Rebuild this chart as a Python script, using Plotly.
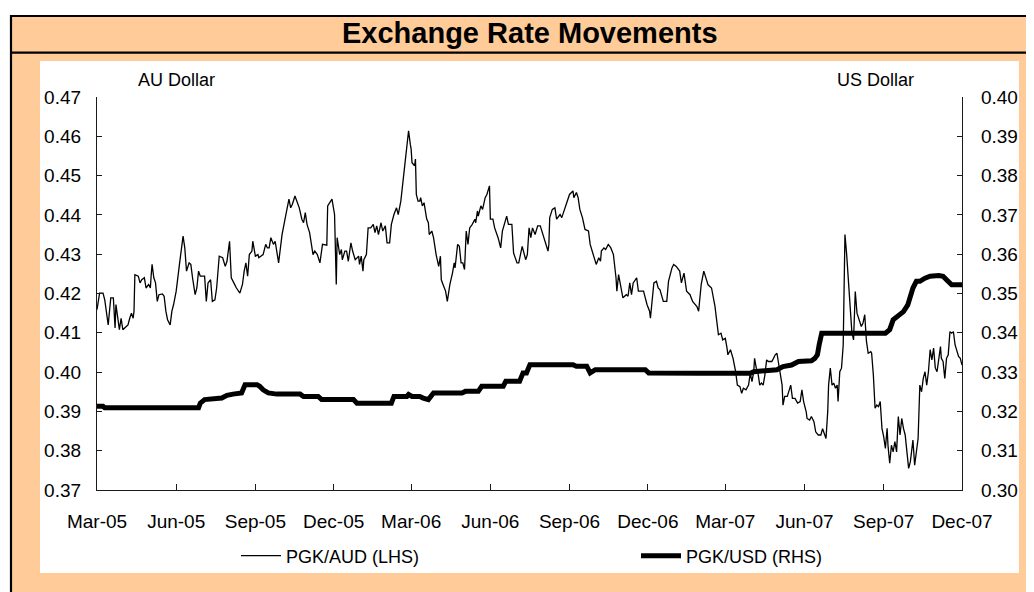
import pandas as pd
import plotly.graph_objects as go

# ---------------- data ----------------
base_date = "2005-03-01"   # day 0 of the day offsets below

# PGK/AUD (left axis): day offset since 1 Mar 2005, rate
aud_day = [0, 1, 3, 7, 9, 13, 16, 19, 21, 22, 26, 28, 30, 34, 36, 38, 40, 42, 43, 44,
           48, 50, 52, 55, 57, 60, 62, 63, 64, 66, 68, 70, 72, 76, 78, 80, 82, 85, 87, 89,
           92, 96, 97, 100, 102, 104, 107, 109, 111, 114, 116, 118, 120, 125, 127, 129, 132, 134, 137, 139,
           142, 146, 149, 151, 154, 156, 159, 162, 166, 169, 171, 173, 175, 177, 180, 181, 184, 187, 188, 193,
           196, 198, 200, 202, 205, 207, 211, 213, 215, 218, 221, 223, 225, 227, 230, 232, 235, 238, 240, 242,
           244, 247, 251, 253, 256, 259, 262, 267, 268, 273, 276, 278, 279, 282, 284, 285, 288, 290, 292, 295,
           297, 300, 304, 305, 307, 309, 310, 313, 315, 318, 321, 323, 325, 327, 330, 332, 335, 337, 340, 342,
           345, 348, 350, 353, 355, 357, 360, 362, 364, 365, 366, 369, 370, 371, 373, 375, 376, 378, 380, 383,
           385, 386, 389, 391, 394, 397, 399, 400, 402, 405, 407, 410, 413, 415, 416, 419, 421, 423, 425, 427,
           429, 431, 433, 436, 439, 440, 442, 443, 446, 448, 451, 453, 456, 457, 460, 462, 466, 469, 471, 476,
           478, 482, 484, 488, 490, 492, 494, 497, 498, 500, 502, 504, 506, 509, 512, 515, 520, 524, 525, 526,
           529, 532, 534, 538, 540, 543, 546, 549, 553, 554, 557, 559, 561, 564, 567, 571, 573, 577, 580, 583,
           585, 586, 589, 591, 594, 597, 600, 603, 604, 606, 609, 611, 615, 617, 619, 621, 623, 627, 629, 635,
           639, 642, 643, 646, 647, 650, 652, 654, 658, 662, 664, 668, 670, 673, 677, 679, 682, 685, 689, 692,
           697, 699, 701, 702, 705, 710, 714, 718, 722, 725, 727, 730, 732, 733, 736, 739, 742, 744, 747, 749,
           751, 754, 757, 759, 761, 763, 764, 766, 768, 770, 772, 774, 776, 778, 780, 784, 786, 788, 790, 792,
           794, 796, 797, 799, 802, 804, 806, 808, 811, 814, 817, 819, 821, 824, 825, 828, 830, 833, 835, 838,
           841, 843, 846, 847, 849, 850, 852, 854, 856, 858, 860, 861, 863, 865, 867, 869, 871, 873, 875, 877,
           879, 881, 883, 885, 886, 888, 890, 892, 894, 896, 899, 900, 902, 904, 906, 908, 910, 912, 914, 916,
           918, 919, 921, 923, 925, 927, 929, 931, 933, 935, 937, 939, 941, 943, 945, 947, 948, 950, 952, 954,
           956, 958, 960, 962, 964, 966, 968, 970, 972, 974, 976, 978, 980, 981, 983, 985, 987, 989, 991, 993,
           995, 997, 1001, 1003, 1005]
aud_rate = [0.4159, 0.4172, 0.4201, 0.4201, 0.4184, 0.4120, 0.4189, 0.4189, 0.4112, 0.4172, 0.4108, 0.4137, 0.4108, 0.4116, 0.4120, 0.4137, 0.4150, 0.4137, 0.4155, 0.4248,
            0.4244, 0.4227, 0.4235, 0.4240, 0.4214, 0.4223, 0.4214, 0.4248, 0.4274, 0.4240, 0.4227, 0.4180, 0.4197, 0.4199, 0.4193, 0.4155, 0.4133, 0.4120, 0.4155, 0.4172,
            0.4206, 0.4278, 0.4299, 0.4346, 0.4316, 0.4257, 0.4278, 0.4274, 0.4240, 0.4197, 0.4214, 0.4257, 0.4244, 0.4244, 0.4180, 0.4227, 0.4235, 0.4180, 0.4184, 0.4214,
            0.4295, 0.4291, 0.4269, 0.4282, 0.4333, 0.4240, 0.4227, 0.4214, 0.4201, 0.4223, 0.4257, 0.4278, 0.4244, 0.4299, 0.4308, 0.4333, 0.4295, 0.4299, 0.4291, 0.4299,
            0.4325, 0.4316, 0.4316, 0.4342, 0.4325, 0.4333, 0.4278, 0.4316, 0.4350, 0.4384, 0.4418, 0.4440, 0.4418, 0.4427, 0.4448, 0.4435, 0.4418, 0.4389, 0.4380, 0.4406,
            0.4376, 0.4355, 0.4299, 0.4308, 0.4299, 0.4278, 0.4325, 0.4323, 0.4423, 0.4440, 0.4401, 0.4223, 0.4342, 0.4299, 0.4312, 0.4286, 0.4308, 0.4308, 0.4282, 0.4329,
            0.4308, 0.4286, 0.4295, 0.4274, 0.4295, 0.4257, 0.4286, 0.4299, 0.4367, 0.4367, 0.4376, 0.4355, 0.4372, 0.4350, 0.4380, 0.4359, 0.4372, 0.4329, 0.4329, 0.4376,
            0.4401, 0.4418, 0.4401, 0.4435, 0.4474, 0.4512, 0.4567, 0.4614, 0.4580, 0.4567, 0.4533, 0.4525, 0.4542, 0.4452, 0.4435, 0.4435, 0.4444, 0.4423, 0.4431, 0.4390,
            0.4380, 0.4350, 0.4359, 0.4342, 0.4299, 0.4269, 0.4295, 0.4235, 0.4223, 0.4206, 0.4180, 0.4223, 0.4252, 0.4278, 0.4265, 0.4325, 0.4320, 0.4278, 0.4278, 0.4261,
            0.4359, 0.4325, 0.4367, 0.4376, 0.4389, 0.4380, 0.4410, 0.4397, 0.4423, 0.4414, 0.4444, 0.4452, 0.4474, 0.4389, 0.4389, 0.4367, 0.4342, 0.4316, 0.4359, 0.4397,
            0.4376, 0.4376, 0.4303, 0.4278, 0.4278, 0.4303, 0.4320, 0.4295, 0.4286, 0.4299, 0.4367, 0.4342, 0.4367, 0.4350, 0.4372, 0.4372, 0.4337, 0.4308, 0.4325, 0.4393,
            0.4414, 0.4418, 0.4389, 0.4401, 0.4393, 0.4414, 0.4435, 0.4452, 0.4461, 0.4444, 0.4457, 0.4444, 0.4414, 0.4393, 0.4363, 0.4359, 0.4325, 0.4295, 0.4274, 0.4291,
            0.4282, 0.4308, 0.4316, 0.4312, 0.4325, 0.4316, 0.4299, 0.4240, 0.4206, 0.4248, 0.4206, 0.4189, 0.4197, 0.4193, 0.4227, 0.4197, 0.4227, 0.4240, 0.4206, 0.4206,
            0.4172, 0.4155, 0.4137, 0.4214, 0.4227, 0.4231, 0.4214, 0.4210, 0.4180, 0.4180, 0.4231, 0.4265, 0.4274, 0.4269, 0.4257, 0.4227, 0.4252, 0.4206, 0.4197, 0.4180,
            0.4167, 0.4155, 0.4197, 0.4223, 0.4257, 0.4222, 0.4214, 0.4167, 0.4095, 0.4099, 0.4082, 0.4086, 0.4061, 0.4044, 0.4057, 0.4035, 0.4001, 0.3967, 0.3963, 0.3946,
            0.3959, 0.3955, 0.3967, 0.3997, 0.3976, 0.4001, 0.4035, 0.4010, 0.3997, 0.3967, 0.3972, 0.3967, 0.3993, 0.4031, 0.4027, 0.4027, 0.4035, 0.4044, 0.4048, 0.4023,
            0.4001, 0.3967, 0.3916, 0.3938, 0.3938, 0.3950, 0.3967, 0.3933, 0.3933, 0.3921, 0.3925, 0.3955, 0.3925, 0.3899, 0.3882, 0.3878, 0.3887, 0.3874, 0.3848, 0.3840,
            0.3840, 0.3856, 0.3840, 0.3831, 0.3900, 0.3967, 0.4010, 0.3967, 0.3972, 0.3959, 0.3967, 0.3925, 0.4001, 0.4010, 0.4069, 0.4350, 0.4299, 0.4239, 0.4171, 0.4103,
            0.4082, 0.4205, 0.4150, 0.4137, 0.4129, 0.4116, 0.4125, 0.4146, 0.4078, 0.4048, 0.4052, 0.4048, 0.3993, 0.3908, 0.3916, 0.3912, 0.3925, 0.3857, 0.3836, 0.3806,
            0.3857, 0.3814, 0.3768, 0.3814, 0.3797, 0.3823, 0.3797, 0.3887, 0.3840, 0.3882, 0.3857, 0.3840, 0.3797, 0.3755, 0.3772, 0.3823, 0.3827, 0.3763, 0.3806, 0.3831,
            0.3967, 0.3950, 0.3984, 0.4001, 0.3967, 0.4001, 0.4057, 0.4031, 0.4061, 0.4010, 0.4001, 0.4035, 0.4065, 0.4035, 0.4027, 0.3984, 0.4035, 0.4044, 0.4103, 0.4099,
            0.4103, 0.4069, 0.4040, 0.4035, 0.4018]

# PGK/USD (right axis): day offset since 1 Mar 2005, rate
usd_day = [0, 7, 9, 118, 120, 125, 145, 151, 158, 168, 172, 186, 189, 193, 199, 209, 236, 240, 257, 261,
           298, 302, 342, 345, 360, 362, 366, 375, 379, 383, 385, 391, 424, 428, 443, 447, 472, 475, 491, 495,
           499, 503, 553, 557, 569, 573, 579, 637, 641, 701, 759, 763, 790, 797, 807, 815, 830, 834, 837, 839,
           842, 916, 921, 925, 931, 937, 942, 945, 948, 952, 956, 962, 968, 978, 983, 987, 989, 993, 1005]
usd_rate = [0.3213, 0.3213, 0.3209, 0.3209, 0.3221, 0.3230, 0.3234, 0.3241, 0.3244, 0.3247, 0.3268, 0.3268, 0.3264, 0.3255, 0.3247, 0.3244, 0.3244, 0.3238, 0.3238, 0.3230,
            0.3230, 0.3221, 0.3221, 0.3238, 0.3238, 0.3243, 0.3238, 0.3238, 0.3234, 0.3230, 0.3230, 0.3247, 0.3247, 0.3251, 0.3251, 0.3264, 0.3264, 0.3277, 0.3277, 0.3298,
            0.3298, 0.3319, 0.3319, 0.3315, 0.3315, 0.3298, 0.3306, 0.3306, 0.3298, 0.3297, 0.3297, 0.3301, 0.3306, 0.3314, 0.3318, 0.3327, 0.3329, 0.3335, 0.3344, 0.3369,
            0.3399, 0.3399, 0.3408, 0.3433, 0.3442, 0.3454, 0.3471, 0.3497, 0.3514, 0.3531, 0.3531, 0.3539, 0.3544, 0.3546, 0.3544, 0.3535, 0.3531, 0.3522, 0.3522]

tick_dates = ["2005-03-01", "2005-06-01", "2005-09-01", "2005-12-01", "2006-03-01", "2006-06-01",
              "2006-09-01", "2006-12-01", "2007-03-01", "2007-06-01", "2007-09-01", "2007-12-01"]
tick_labels = ["Mar-05", "Jun-05", "Sep-05", "Dec-05", "Mar-06", "Jun-06",
               "Sep-06", "Dec-06", "Mar-07", "Jun-07", "Sep-07", "Dec-07"]

title_text = "Exchange Rate Movements"
left_axis_title = "AU Dollar"
right_axis_title = "US Dollar"
aud_name = "PGK/AUD (LHS)"
usd_name = "PGK/USD (RHS)"

# ---------------- figure ----------------
aud_dates = pd.to_datetime(base_date) + pd.to_timedelta(aud_day, unit="D")
usd_dates = pd.to_datetime(base_date) + pd.to_timedelta(usd_day, unit="D")

FONT = "Liberation Sans, Arial, sans-serif"
PEACH = "#FFCC99"

fig = go.Figure()
fig.add_trace(go.Scatter(x=aud_dates, y=aud_rate, name=aud_name, mode="lines", yaxis="y",
                         line=dict(color="black", width=1.3), legend="legend"))
fig.add_trace(go.Scatter(x=usd_dates, y=usd_rate, name=usd_name, mode="lines", yaxis="y2",
                         line=dict(color="black", width=5), legend="legend2"))

# page is shown with the browser's default 8px body margin -> work in page pixels
OFF = 8
W, H = 1034, 592
L, R, T = 89, 80, 89          # plot area on page: x 97..962, y 97..490
pw, ph = 865, 393
B = H - T - ph


def px(x):
    return (x - OFF - L) / pw


def py(y):
    return (T + ph - (y - OFF)) / ph


shapes = [
    # peach frame with black border
    dict(type="rect", xref="paper", yref="paper", x0=px(11), x1=px(W + 40), y0=py(H + 40), y1=py(16),
         fillcolor=PEACH, line=dict(color="black", width=2.2), layer="below"),
    # white inner panel
    dict(type="rect", xref="paper", yref="paper", x0=px(40), x1=px(1019), y0=py(573), y1=py(61),
         fillcolor="white", line=dict(width=0), layer="below"),
    # title separator
    dict(type="line", xref="paper", yref="paper", x0=px(11), x1=px(W + 40), y0=py(52.7), y1=py(52.7),
         line=dict(color="black", width=2.2), layer="below"),
]

axis_common = dict(showgrid=False, zeroline=False, showline=True, linecolor="#1a1a1a", linewidth=1.3,
                   ticks="inside", tickcolor="#1a1a1a", tickwidth=1.3,
                   tickfont=dict(family=FONT, size=19, color="black"), automargin=False)

legend_common = dict(orientation="h", xanchor="left", y=py(556), yanchor="middle",
                     font=dict(family=FONT, size=18, color="black"), bgcolor="rgba(0,0,0,0)",
                     itemwidth=40)

fig.update_layout(
    width=W, height=H,
    margin=dict(l=L, r=R, t=T, b=B, pad=0),
    paper_bgcolor="white", plot_bgcolor="white",
    font=dict(family=FONT, color="black"),
    shapes=shapes,
    showlegend=True,
    legend=dict(x=px(236), **legend_common),
    legend2=dict(x=px(636), **legend_common),
    xaxis=dict(type="date", range=[tick_dates[0], tick_dates[-1]], tickmode="array",
               tickvals=tick_dates, ticktext=tick_labels, ticklen=6, ticklabelstandoff=14,
               **axis_common),
    yaxis=dict(range=[0.37, 0.47], dtick=0.01, tick0=0.37, tickformat=".2f", ticklen=5,
               ticklabelstandoff=11, **axis_common),
    yaxis2=dict(range=[0.30, 0.40], dtick=0.01, tick0=0.30, tickformat=".2f", ticklen=5,
                overlaying="y", side="right", ticklabelstandoff=14, **axis_common),
    annotations=[
        dict(text=f"<b>{title_text}</b>", xref="paper", yref="paper", x=0.5, y=py(33),
             xanchor="center", yanchor="middle", showarrow=False,
             font=dict(family=FONT, size=29, color="black")),
        dict(text=left_axis_title, xref="paper", yref="paper", x=px(176.5), y=py(80),
             xanchor="center", yanchor="middle", showarrow=False,
             font=dict(family=FONT, size=18, color="black")),
        dict(text=right_axis_title, xref="paper", yref="paper", x=px(875.5), y=py(80),
             xanchor="center", yanchor="middle", showarrow=False,
             font=dict(family=FONT, size=18, color="black")),
    ],
)

fig.write_html("out.html")
